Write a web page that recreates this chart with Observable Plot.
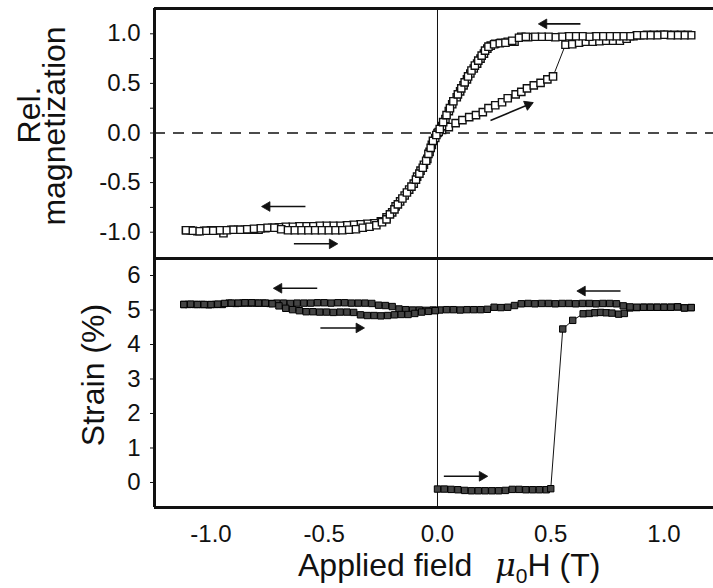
<!DOCTYPE html>
<html><head><meta charset="utf-8">
<script src="https://cdn.jsdelivr.net/npm/d3@7"></script>
<script src="https://cdn.jsdelivr.net/npm/@observablehq/plot@0.6"></script>
<style>
html,body{margin:0;padding:0;background:#fff;}
#wrap{position:relative;width:713px;height:588px;overflow:hidden;font-family:"Liberation Sans",Arial,sans-serif;}
#wrap svg{position:absolute;left:0;}
</style></head><body><div id="wrap"></div>
<script>
// ---------- data ----------
const xDomain = [-1.2494, 1.2185];
const magDomain = [-1.265, 1.255];
const strainDomain = [-0.725, 6.493];
const xTicks = [-1.0, -0.5, 0.0, 0.5, 1.0];
const magTicks = [-1, -0.75, -0.5, -0.25, 0, 0.25, 0.5, 0.75, 1];
const strainTicks = [0, 1, 2, 3, 4, 5, 6];

// magnetization: virgin curve (0 -> 1.1 T)
const magVirgin = [[0.00,0.00],[0.02,0.03],[0.05,0.06],[0.08,0.10],[0.11,0.13],[0.14,0.16],[0.17,0.18],[0.20,0.21],[0.225,0.25],[0.255,0.28],[0.285,0.31],[0.31,0.35],[0.345,0.39],[0.37,0.415],[0.395,0.45],[0.425,0.48],[0.455,0.505],[0.485,0.54],[0.51,0.57],[0.565,0.89],[0.595,0.895],[0.625,0.91],[0.655,0.92],[0.685,0.92],[0.715,0.925],[0.745,0.93],[0.775,0.93],[0.805,0.93],[0.835,0.95],[0.865,0.975],[0.895,0.985],[0.925,0.99],[0.955,0.99],[0.985,0.99],[1.015,0.99],[1.045,0.99],[1.075,0.99],[1.105,0.99]];
// magnetization: decreasing field (1.1 -> -1.1 T)
const magDown = [[1.12,0.985],[1.09,0.985],[1.06,0.985],[1.03,0.985],[1.00,0.99],[0.97,0.985],[0.94,0.985],[0.91,0.985],[0.88,0.985],[0.85,0.975],[0.82,0.975],[0.79,0.975],[0.76,0.975],[0.73,0.975],[0.70,0.975],[0.67,0.97],[0.64,0.975],[0.61,0.975],[0.58,0.975],[0.55,0.97],[0.52,0.965],[0.49,0.97],[0.46,0.97],[0.43,0.97],[0.40,0.965],[0.37,0.97],[0.34,0.92],[0.31,0.92],[0.28,0.91],[0.255,0.90],[0.235,0.88],[0.22,0.85],[0.205,0.80],[0.19,0.75],[0.175,0.70],[0.16,0.65],[0.145,0.60],[0.13,0.54],[0.115,0.48],[0.10,0.42],[0.085,0.36],[0.065,0.29],[0.05,0.22],[0.035,0.14],[0.02,0.07],[0.005,0.01],[-0.01,-0.05],[-0.025,-0.12],[-0.035,-0.19],[-0.045,-0.26],[-0.06,-0.32],[-0.075,-0.38],[-0.09,-0.44],[-0.105,-0.51],[-0.125,-0.57],[-0.145,-0.63],[-0.165,-0.69],[-0.185,-0.74],[-0.20,-0.80],[-0.225,-0.85],[-0.25,-0.89],[-0.28,-0.91],[-0.31,-0.915],[-0.34,-0.92],[-0.37,-0.925],[-0.40,-0.93],[-0.43,-0.935],[-0.46,-0.935],[-0.49,-0.935],[-0.52,-0.935],[-0.55,-0.94],[-0.58,-0.94],[-0.61,-0.94],[-0.64,-0.945],[-0.67,-0.945],[-0.70,-0.95],[-0.73,-0.955],[-0.76,-0.96],[-0.79,-0.975],[-0.82,-0.975],[-0.85,-0.975],[-0.88,-0.975],[-0.91,-0.975],[-0.945,-1.01],[-0.975,-0.98],[-1.00,-0.98],[-1.03,-0.985],[-1.06,-0.99],[-1.09,-0.98],[-1.11,-0.98]];
// magnetization: increasing field (-1.1 -> 0.4 T)
const magUp = [[-1.11,-0.98],[-1.08,-0.985],[-1.05,-0.99],[-1.02,-0.985],[-0.99,-0.985],[-0.96,-0.98],[-0.93,-0.98],[-0.90,-0.975],[-0.87,-0.975],[-0.84,-0.97],[-0.81,-0.965],[-0.78,-0.96],[-0.75,-0.955],[-0.72,-0.955],[-0.69,-0.97],[-0.66,-0.98],[-0.63,-0.98],[-0.60,-0.98],[-0.57,-0.98],[-0.54,-0.98],[-0.51,-0.98],[-0.48,-0.98],[-0.45,-0.98],[-0.42,-0.98],[-0.39,-0.975],[-0.36,-0.97],[-0.33,-0.955],[-0.30,-0.945],[-0.27,-0.93],[-0.245,-0.90],[-0.225,-0.87],[-0.21,-0.82],[-0.19,-0.77],[-0.175,-0.72],[-0.155,-0.66],[-0.135,-0.60],[-0.115,-0.54],[-0.095,-0.47],[-0.08,-0.41],[-0.065,-0.35],[-0.05,-0.28],[-0.04,-0.21],[-0.03,-0.15],[-0.02,-0.08],[-0.005,-0.02],[0.01,0.04],[0.025,0.11],[0.04,0.18],[0.055,0.25],[0.07,0.32],[0.09,0.39],[0.105,0.45],[0.12,0.51],[0.135,0.57],[0.15,0.63],[0.165,0.68],[0.18,0.73],[0.195,0.78],[0.21,0.83],[0.225,0.87],[0.25,0.895],[0.275,0.905],[0.30,0.91],[0.33,0.93],[0.36,0.96],[0.39,0.97]];

// strain: virgin curve
const strainVirgin = [[0.00,-0.19],[0.03,-0.19],[0.06,-0.20],[0.09,-0.21],[0.12,-0.23],[0.15,-0.24],[0.18,-0.24],[0.21,-0.24],[0.24,-0.24],[0.27,-0.24],[0.30,-0.23],[0.33,-0.20],[0.36,-0.20],[0.39,-0.21],[0.42,-0.21],[0.45,-0.21],[0.48,-0.21],[0.50,-0.18],[0.553,4.45],[0.597,4.70],[0.643,4.89],[0.67,4.90],[0.695,4.92],[0.72,4.93],[0.745,4.92],[0.77,4.91],[0.80,4.88],[0.825,4.90],[0.85,5.06],[0.88,5.07],[0.91,5.08],[0.94,5.08],[0.97,5.08],[1.00,5.08],[1.03,5.08],[1.06,5.09],[1.09,5.06],[1.12,5.07]];
// strain: decreasing field
const strainDown = [[1.12,5.07],[1.09,5.06],[1.06,5.09],[1.03,5.08],[1.00,5.08],[0.97,5.08],[0.94,5.08],[0.91,5.08],[0.88,5.08],[0.85,5.09],[0.82,5.12],[0.79,5.18],[0.76,5.19],[0.73,5.19],[0.70,5.18],[0.67,5.19],[0.64,5.19],[0.61,5.18],[0.58,5.19],[0.55,5.19],[0.52,5.18],[0.49,5.19],[0.46,5.19],[0.43,5.18],[0.40,5.19],[0.37,5.18],[0.34,5.13],[0.31,5.08],[0.28,5.07],[0.25,5.08],[0.22,5.02],[0.19,5.01],[0.16,5.01],[0.13,5.01],[0.10,5.00],[0.07,5.01],[0.04,5.01],[0.01,5.00],[-0.02,5.00],[-0.05,4.99],[-0.08,5.00],[-0.11,5.00],[-0.14,5.01],[-0.17,5.03],[-0.20,5.10],[-0.23,5.13],[-0.26,5.14],[-0.29,5.19],[-0.32,5.20],[-0.35,5.20],[-0.38,5.20],[-0.41,5.21],[-0.44,5.21],[-0.47,5.20],[-0.50,5.21],[-0.53,5.21],[-0.56,5.20],[-0.59,5.20],[-0.62,5.20],[-0.65,5.19],[-0.68,5.20],[-0.71,5.20],[-0.74,5.19],[-0.77,5.20],[-0.80,5.20],[-0.83,5.20],[-0.86,5.20],[-0.89,5.19],[-0.92,5.20],[-0.95,5.16],[-0.98,5.16],[-1.01,5.15],[-1.04,5.16],[-1.07,5.16],[-1.10,5.16],[-1.12,5.16]];
// strain: increasing field
const strainUp = [[-1.12,5.16],[-1.09,5.17],[-1.06,5.16],[-1.03,5.16],[-1.00,5.16],[-0.97,5.17],[-0.94,5.19],[-0.91,5.20],[-0.88,5.20],[-0.85,5.21],[-0.82,5.21],[-0.79,5.20],[-0.76,5.20],[-0.73,5.18],[-0.70,5.12],[-0.67,5.05],[-0.64,5.01],[-0.61,4.98],[-0.58,4.95],[-0.55,4.95],[-0.52,4.94],[-0.49,4.94],[-0.46,4.93],[-0.43,4.94],[-0.40,4.94],[-0.37,4.93],[-0.34,4.86],[-0.31,4.84],[-0.28,4.84],[-0.25,4.83],[-0.22,4.84],[-0.19,4.86],[-0.16,4.87],[-0.13,4.87],[-0.10,4.90],[-0.07,4.94],[-0.04,4.96],[-0.01,4.98]];

// direction arrows (tail -> head), data units
const magArrows = [
  {x1:0.631, y1:1.10, x2:0.470, y2:1.10},
  {x1:0.234, y1:0.126, x2:0.400, y2:0.285},
  {x1:-0.583, y1:-0.741, x2:-0.752, y2:-0.741},
  {x1:-0.634, y1:-1.117, x2:-0.465, y2:-1.117}
];
const strainArrows = [
  {x1:-0.531, y1:5.63, x2:-0.700, y2:5.63},
  {x1:-0.517, y1:4.48, x2:-0.347, y2:4.48},
  {x1:0.808, y1:5.55, x2:0.640, y2:5.55},
  {x1:0.028, y1:0.18, x2:0.197, y2:0.18}
];

// ---------- build ----------
const toRows = (arr, branch) => arr.map(([x, y]) => ({x, y, branch}));
const magRows = [...toRows(magVirgin, "virgin"), ...toRows(magDown, "down"), ...toRows(magUp, "up")];
const strainRows = [...toRows(strainVirgin, "virgin"), ...toRows(strainDown, "down"), ...toRows(strainUp, "up")];

const W = 713, ML = 154, MR = 0;
const kx = (W - ML - MR) / (xDomain[1] - xDomain[0]);
function withHeads(arrows, ky) {
  return arrows.map(a => ({...a, rot: Math.atan2((a.x2 - a.x1) * kx, (a.y2 - a.y1) * ky) * 180 / Math.PI}));
}
const fontFamily = '"Liberation Sans", Arial, sans-serif';
const ink = "#111";

function arrowMarks(arrows) {
  return [
    Plot.link(arrows, {x1: "x1", y1: "y1", x2: "x2", y2: "y2", stroke: ink, strokeWidth: 1.6}),
    Plot.dot(arrows, {x: "x2", y: "y2", symbol: "triangle", r: 3.6, fill: ink, stroke: ink, strokeWidth: 0.8, rotate: "rot"})
  ];
}

// top panel: magnetization
const topH = 262, topMT = 8, topMB = 4;
const kyTop = (topH - topMT - topMB) / (magDomain[1] - magDomain[0]);
const magPlot = Plot.plot({
  width: W, height: topH,
  marginLeft: ML, marginRight: MR, marginTop: topMT, marginBottom: topMB,
  style: {background: "none", overflow: "visible", fontFamily, fontSize: "24px", color: ink},
  x: {domain: xDomain, axis: null},
  y: {domain: magDomain, ticks: magTicks, tickSize: 4, tickPadding: 10, label: null,
      tickFormat: d => (Math.abs(d * 2 - Math.round(d * 2)) < 1e-9 ? d.toFixed(1) : "")},
  marks: [
    Plot.ruleY([0], {stroke: ink, strokeWidth: 1.4, strokeDasharray: "11,8"}),
    Plot.ruleX([0], {stroke: ink, strokeWidth: 1}),
    Plot.line(magRows, {x: "x", y: "y", z: "branch", stroke: ink, strokeWidth: 1}),
    Plot.dot(magRows, {x: "x", y: "y", symbol: "square", r: 4.1, fill: "white", stroke: ink, strokeWidth: 1.4}),
    ...arrowMarks(withHeads(magArrows, kyTop)),
    Plot.ruleY([magDomain[1], magDomain[0]], {stroke: ink, strokeWidth: 3}),
    Plot.ruleX([xDomain[0]], {stroke: ink, strokeWidth: 3})
  ]
});
magPlot.style.top = "0px";

// bottom panel: strain
const botH = 334, botMT = 4, botMB = 81;
const kyBot = (botH - botMT - botMB) / (strainDomain[1] - strainDomain[0]);
const strainPlot = Plot.plot({
  width: W, height: botH,
  marginLeft: ML, marginRight: MR, marginTop: botMT, marginBottom: botMB,
  style: {background: "none", overflow: "visible", fontFamily, fontSize: "24px", color: ink},
  x: {domain: xDomain, ticks: xTicks, tickSize: 0, tickPadding: 17, label: null, tickFormat: d => d.toFixed(1)},
  y: {domain: strainDomain, ticks: strainTicks, tickSize: 4, tickPadding: 10, label: null, tickFormat: d => String(d)},
  marks: [
    Plot.ruleX([0], {stroke: ink, strokeWidth: 1}),
    Plot.line(strainRows, {x: "x", y: "y", z: "branch", stroke: ink, strokeWidth: 1}),
    Plot.dot(strainRows, {x: "x", y: "y", symbol: "square", r: 3.6, fill: "#444", stroke: "#000", strokeWidth: 1}),
    ...arrowMarks(withHeads(strainArrows, kyBot)),
    Plot.ruleY([strainDomain[1], strainDomain[0]], {stroke: ink, strokeWidth: 3}),
    Plot.ruleX([xDomain[0]], {stroke: ink, strokeWidth: 3})
  ]
});
strainPlot.style.top = "254px";

const wrap = document.getElementById("wrap");
wrap.appendChild(magPlot);
wrap.appendChild(strainPlot);

// axis titles
const ov = d3.create("svg").attr("width", W).attr("height", 588)
  .style("top", "0px").style("pointer-events", "none")
  .attr("font-family", fontFamily).attr("fill", ink);
ov.append("text").attr("transform", "translate(40,115) rotate(-90)").attr("text-anchor", "middle")
  .attr("font-size", 32).text("Rel.");
ov.append("text").attr("transform", "translate(65,126) rotate(-90)").attr("text-anchor", "middle")
  .attr("font-size", 32).text("magnetization");
ov.append("text").attr("transform", "translate(104,375) rotate(-90)").attr("text-anchor", "middle")
  .attr("font-size", 32).text("Strain (%)");
ov.append("text").attr("x", 298).attr("y", 576).attr("font-size", 32).text("Applied field");
const t2 = ov.append("text").attr("x", 495).attr("y", 576).attr("font-size", 32);
t2.append("tspan").attr("font-style", "italic").attr("font-family", '"DejaVu Serif", serif').text("μ");
t2.append("tspan").attr("font-size", 21).attr("dy", 7).text("0");
t2.append("tspan").attr("dy", -7).text("H (T)");
wrap.appendChild(ov.node());
</script>
</body></html>
